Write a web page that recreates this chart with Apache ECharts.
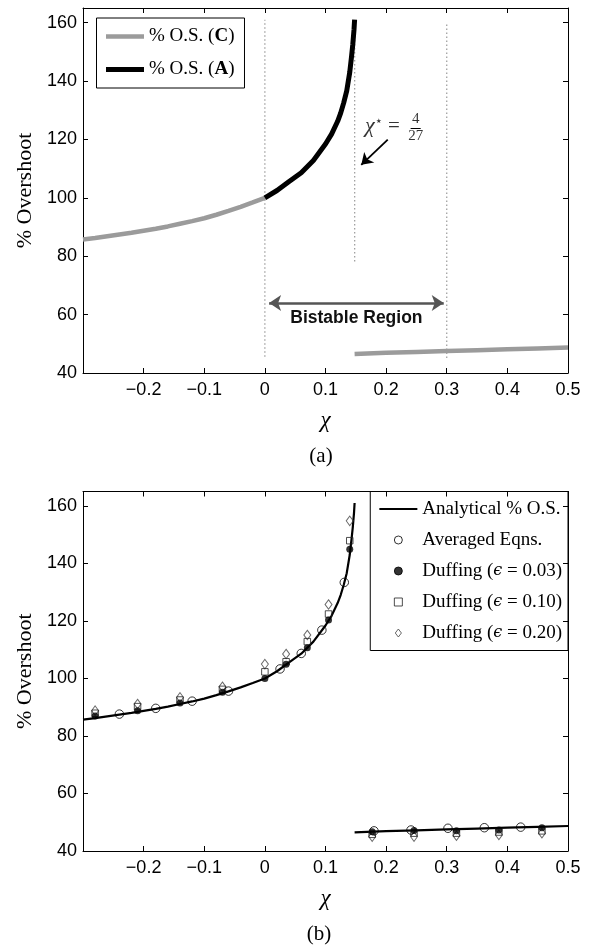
<!DOCTYPE html>
<html><head><meta charset="utf-8">
<script src="https://cdn.jsdelivr.net/npm/echarts@6/dist/echarts.min.js"></script>
<style>html,body{margin:0;padding:0;background:#fff}#c{width:595px;height:948px}</style>
</head><body><div id="c"></div>
<script>
// ---------- data ----------
const chiLeft  = [-0.3, -0.28, -0.26, -0.24, -0.22, -0.2, -0.18, -0.16, -0.14, -0.12, -0.1, -0.08, -0.06, -0.04, -0.02, 0];
const osLeft   = [85.7, 86.2, 86.8, 87.4, 88.0, 88.7, 89.4, 90.2, 91.1, 92.0, 93.0, 94.2, 95.5, 96.9, 98.4, 100];
const chiUpper = [0, 0.02, 0.04, 0.06, 0.08, 0.1, 0.11, 0.12, 0.125, 0.13, 0.135, 0.14, 0.143, 0.145, 0.147, 0.148];
const osUpper  = [100, 102.5, 105.6, 108.6, 112.8, 118.4, 121.8, 126.2, 129, 132.5, 136.6, 143, 148.5, 152.5, 157.5, 161];
const chiLower = [0.148, 0.2, 0.25, 0.3, 0.35, 0.4, 0.45, 0.5];
const osLower  = [46.5, 46.9, 47.2, 47.5, 47.8, 48.1, 48.4, 48.7];

const chiAvg = [-0.24, -0.18, -0.12, -0.06, 0.025, 0.06, 0.094, 0.131, 0.18, 0.241, 0.302, 0.362, 0.422];
const osAvg  = [87.6, 89.6, 92.1, 95.6, 103.3, 108.7, 116.8, 133.4, 47.0, 47.3, 47.9, 48.1, 48.3];

const chiDuff   = [-0.28, -0.21, -0.14, -0.07, 0, 0.035, 0.07, 0.105, 0.14, 0.177, 0.246, 0.316, 0.386, 0.457];
const osDuff003 = [86.9, 88.8, 91.5, 95.2, 100.0, 104.9, 110.7, 120.3, 144.9, 46.7, 47.1, 47.0, 47.3, 48.1];
const osDuff010 = [87.9, 90.2, 92.5, 96.2, 102.3, 105.8, 112.8, 122.4, 147.9, 45.8, 46.2, 46.2, 46.6, 47.0];
const osDuff020 = [88.8, 91.1, 93.4, 97.1, 105.0, 108.5, 115.1, 125.7, 154.8, 45.0, 45.0, 45.3, 45.6, 46.2];

const boundaryChi  = [0, 4 / 27, 0.3];
const boundaryLow  = [45.6, 78.2, 45.1];
const boundaryHigh = [161, 160, 160];

const bistableChi = [0.007, 0.295];
const bistableOs  = [64, 64];
const starArrowChi = [0.2027, 0.159];
const starArrowOs  = [119.9, 111.3];

const xMin = -0.3, xMax = 0.5, xStep = 0.1;
const yMin = 40, yMax = 165, yStep = 20;

// ---------- helpers ----------
const zip = (a, b) => a.map((v, i) => [v, b[i]]);
const SANS = 'Liberation Sans', SERIF = 'Liberation Serif';

function xAxes(grid) {
  const common = {
    gridIndex: grid, type: 'value', min: xMin, max: xMax, interval: xStep,
    axisLine: { onZero: false, lineStyle: { color: '#000', width: 1 } },
    axisTick: { inside: true, length: 5, lineStyle: { color: '#000', width: 1 } },
    splitLine: { show: false }
  };
  return [
    Object.assign({}, common, {
      position: 'bottom',
      axisLabel: {
        showMinLabel: false, fontSize: 18, fontFamily: SANS, color: '#000', margin: 8,
        formatter: v => { const r = Math.round(v * 10) / 10; return (r === 0 ? '0' : String(r)).replace('-', '\u2212'); }
      },
      name: 'χ', nameLocation: 'middle', nameGap: 36,
      nameTextStyle: { fontFamily: SERIF, fontStyle: 'italic', fontSize: 23, color: '#000' }
    }),
    Object.assign({}, common, { position: 'top', axisLabel: { show: false } })
  ];
}
function yAxes(grid) {
  const common = {
    gridIndex: grid, type: 'value', min: yMin, max: yMax, interval: yStep,
    axisLine: { onZero: false, lineStyle: { color: '#000', width: 1 } },
    axisTick: { inside: true, length: 5, lineStyle: { color: '#000', width: 1 } },
    splitLine: { show: false }
  };
  return [
    Object.assign({}, common, {
      position: 'left',
      axisLabel: { showMaxLabel: false, fontSize: 18, fontFamily: SANS, color: '#000', margin: 6 },
      name: '% Overshoot', nameLocation: 'middle', nameGap: 47,
      nameTextStyle: { fontFamily: SERIF, fontSize: 22, color: '#000' }
    }),
    Object.assign({}, common, { position: 'right', axisLabel: { show: false } })
  ];
}

const legendText = {
  C: '{t|% O.S. (}{b|C}{t|)}',
  A: '{t|% O.S. (}{b|A}{t|)}',
  Analytical: '{t|Analytical % O.S.}',
  Averaged: '{t|Averaged Eqns.}',
  D03: '{t|Duffing (}{e|ϵ}{t| = 0.03)}',
  D10: '{t|Duffing (}{e|ϵ}{t| = 0.10)}',
  D20: '{t|Duffing (}{e|ϵ}{t| = 0.20)}'
};
const legendRich = {
  t: { fontFamily: SERIF, fontSize: 19, color: '#000' },
  b: { fontFamily: SERIF, fontSize: 19, color: '#000', fontWeight: 'bold' },
  e: { fontFamily: 'DejaVu Serif', fontSize: 16, color: '#000', fontStyle: 'italic' }
};

const gray = '#9b9b9b';
const boundarySeries = boundaryChi.map((c, i) => ({
  type: 'line', xAxisIndex: 0, yAxisIndex: 0, silent: true, symbol: 'none',
  data: [[c, boundaryLow[i]], [c, boundaryHigh[i]]],
  lineStyle: { color: '#999', width: 1.2, type: [1.5, 2.5] }, z: 1
}));

const option = {
  animation: false,
  backgroundColor: '#fff',
  grid: [
    { left: 83, top: 8, width: 485, height: 365 },
    { left: 83, top: 491.5, width: 485, height: 359.5 }
  ],
  xAxis: [...xAxes(0), ...xAxes(1)],
  yAxis: [...yAxes(0), ...yAxes(1)],
  legend: [
    {
      orient: 'vertical', left: 96.5, top: 18, align: 'left',
      borderColor: '#000', borderWidth: 1, padding: [9, 10, 9, 7],
      itemWidth: 38, itemHeight: 5, itemGap: 14, selectedMode: false,
      data: [
        { name: 'C', itemStyle: { opacity: 0 }, lineStyle: { width: 4.5 } },
        { name: 'A', itemStyle: { opacity: 0 }, lineStyle: { width: 5 } }
      ],
      formatter: n => legendText[n],
      textStyle: { fontFamily: SERIF, fontSize: 19, color: '#000', rich: legendRich }
    },
    {
      orient: 'vertical', right: 27, top: 491.5, align: 'left',
      borderColor: '#000', borderWidth: 1, padding: [8, 6, 8, 8],
      itemWidth: 38, itemHeight: 8, itemGap: 12, selectedMode: false,
      symbolKeepAspect: true,
      itemStyle: { borderWidth: 1 },
      data: [
        { name: 'Analytical', itemStyle: { opacity: 0 }, lineStyle: { width: 2.2 } },
        { name: 'Averaged' }, { name: 'D03' },
        { name: 'D10', icon: 'path://M0,0L10,0L10,10L0,10Z', symbolKeepAspect: true, itemStyle: { borderWidth: 1 } },
        { name: 'D20', icon: 'path://M5,0L10,6.5L5,13L0,6.5Z', symbolKeepAspect: true, itemStyle: { borderWidth: 1 } }
      ],
      formatter: n => legendText[n],
      textStyle: { fontFamily: SERIF, fontSize: 19, color: '#000', rich: legendRich }
    }
  ],
  graphic: [
    { type: 'text', x: 321, y: 456, style: { text: '(a)', font: '21px "Liberation Serif"', fill: '#000', textAlign: 'center', textVerticalAlign: 'middle' } },
    { type: 'text', x: 319, y: 934, style: { text: '(b)', font: '21px "Liberation Serif"', fill: '#000', textAlign: 'center', textVerticalAlign: 'middle' } }
  ],
  series: [
    ...boundarySeries,
    { name: 'C', type: 'line', xAxisIndex: 0, yAxisIndex: 0, symbol: 'none', data: zip(chiLeft, osLeft),
      lineStyle: { color: gray, width: 4.5 }, itemStyle: { color: gray }, z: 3 },
    { name: 'C', type: 'line', xAxisIndex: 0, yAxisIndex: 0, symbol: 'none', data: zip(chiLower, osLower),
      lineStyle: { color: gray, width: 4.5 }, itemStyle: { color: gray }, z: 3 },
    { name: 'A', type: 'line', xAxisIndex: 0, yAxisIndex: 0, symbol: 'none', data: zip(chiUpper, osUpper),
      lineStyle: { color: '#000', width: 5 }, itemStyle: { color: '#000' }, z: 4 },
    // annotations (arrows) for panel (a)
    { type: 'line', xAxisIndex: 0, yAxisIndex: 0, data: [], silent: true,
      markLine: {
        silent: true, animation: false,
        data: [
          [
            { coord: [bistableChi[0], bistableOs[0]], symbol: 'arrow', symbolSize: 12,
              lineStyle: { color: '#555', width: 2.6, type: 'solid' },
              label: { show: true, formatter: 'Bistable Region', position: 'insideMiddleBottom', distance: 6,
                       fontFamily: SANS, fontWeight: 'bold', fontSize: 17.5, color: '#111' } },
            { coord: [bistableChi[1], bistableOs[1]], symbol: 'arrow', symbolSize: 12 }
          ],
          [
            { coord: [starArrowChi[0], starArrowOs[0]], symbol: 'none',
              lineStyle: { color: '#000', width: 1.8, type: 'solid' }, label: { show: false } },
            { coord: [starArrowChi[1], starArrowOs[1]], symbol: 'arrow', symbolSize: 11 }
          ],
          [
            { coord: [0.2404, 123.9], symbol: 'none', lineStyle: { color: '#000', width: 1, type: 'solid' }, label: { show: false } },
            { coord: [0.2570, 123.9], symbol: 'none' }
          ]
        ]
      }
    },
    { type: 'scatter', xAxisIndex: 0, yAxisIndex: 0, symbolSize: 0, silent: true,
      itemStyle: { color: 'transparent' },
      label: { show: true, position: 'inside', color: '#000' },
      data: [
        { value: [0.194, 124.4], label: { formatter: '{c|χ}{s|⋆}{q| =}',
            rich: { c: { fontFamily: SERIF, fontStyle: 'italic', fontSize: 22, color: '#000' },
                    s: { fontFamily: 'DejaVu Sans', fontSize: 13, color: '#000', verticalAlign: 'top', padding: [0, 0, 10, 0] },
                    q: { fontFamily: SERIF, fontSize: 21, color: '#000' } } } },
        { value: [0.2487, 127.0], label: { formatter: '4', fontFamily: SERIF, fontSize: 15 } },
        { value: [0.2487, 121.0], label: { formatter: '27', fontFamily: SERIF, fontSize: 15 } }
      ]
    },
    // ---------- panel (b) ----------
    { name: 'Analytical', type: 'line', xAxisIndex: 2, yAxisIndex: 2, symbol: 'none',
      data: zip(chiLeft.concat(chiUpper.slice(1)), osLeft.concat(osUpper.slice(1))),
      lineStyle: { color: '#000', width: 2.2 }, itemStyle: { color: '#000' }, z: 2 },
    { name: 'Analytical', type: 'line', xAxisIndex: 2, yAxisIndex: 2, symbol: 'none',
      data: zip(chiLower, osLower),
      lineStyle: { color: '#000', width: 2.2 }, itemStyle: { color: '#000' }, z: 2 },
    { name: 'D20', type: 'scatter', xAxisIndex: 2, yAxisIndex: 2, symbol: 'diamond', symbolSize: [7, 9.5],
      symbolKeepAspect: true, data: zip(chiDuff, osDuff020),
      itemStyle: { color: 'rgba(0,0,0,0)', borderColor: '#444', borderWidth: 1 }, z: 3 },
    { name: 'D10', type: 'scatter', xAxisIndex: 2, yAxisIndex: 2, symbol: 'rect', symbolSize: 6.5,
      symbolKeepAspect: true, data: zip(chiDuff, osDuff010),
      itemStyle: { color: 'rgba(0,0,0,0)', borderColor: '#222', borderWidth: 1 }, z: 3 },
    { name: 'D03', type: 'scatter', xAxisIndex: 2, yAxisIndex: 2, symbol: 'circle', symbolSize: 7,
      data: zip(chiDuff, osDuff003),
      itemStyle: { color: '#000', borderColor: '#000', borderWidth: 0 }, z: 4 },
    { name: 'Averaged', type: 'scatter', xAxisIndex: 2, yAxisIndex: 2, symbol: 'circle', symbolSize: 8.5,
      data: zip(chiAvg, osAvg),
      itemStyle: { color: 'rgba(0,0,0,0)', borderColor: '#000', borderWidth: 1 }, z: 4 }
  ]
};

const chart = echarts.init(document.getElementById('c'), null, { renderer: 'canvas' });
chart.setOption(option);
</script>
</body></html>
